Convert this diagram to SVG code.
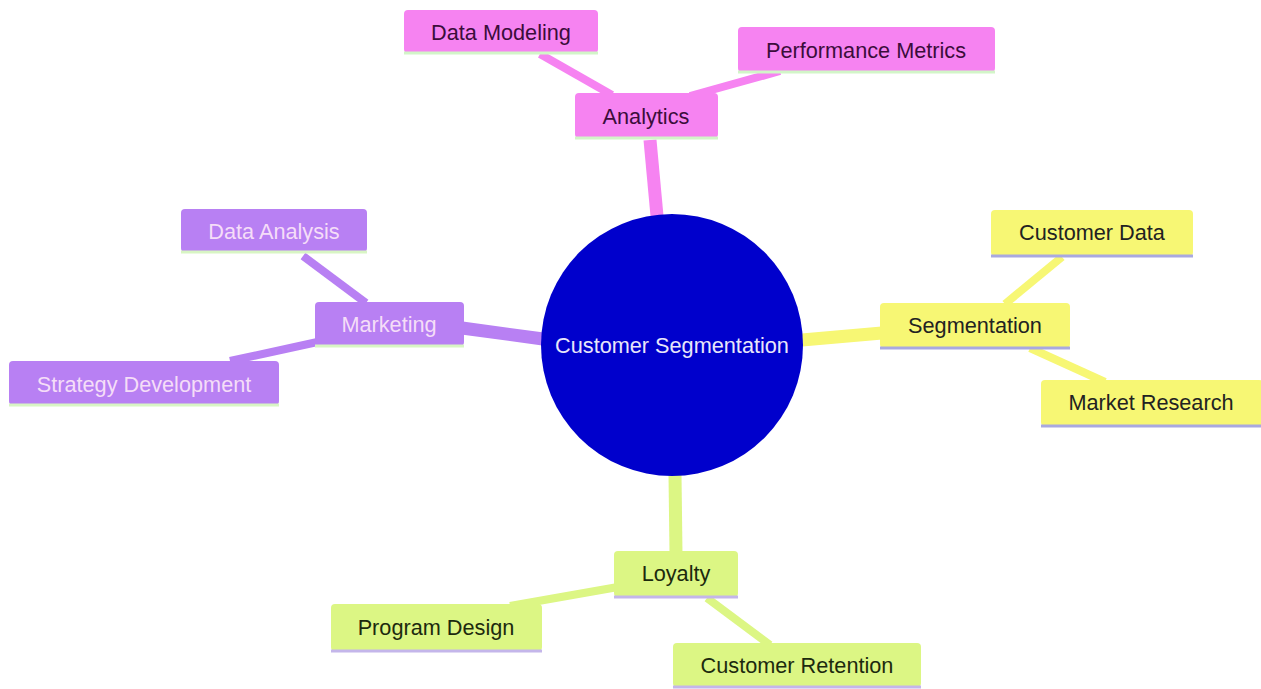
<svg xmlns="http://www.w3.org/2000/svg" width="1261" height="689" viewBox="0 0 1261 689">
<style>
text{font-family:"Liberation Sans",Arial,sans-serif;font-size:21.7px;text-anchor:middle;dominant-baseline:central}
.pk rect.b{fill:#f683f1}.pk text{fill:#3b0d3b}.pk line{stroke:#d2f5c8}
.pu rect.b{fill:#b880f3}.pu text{fill:#f5ddf8}.pu line{stroke:#d8f5c4}
.ye rect.b{fill:#f7f774}.ye text{fill:#222222}.ye line{stroke:#a9a9e0}
.gr rect.b{fill:#dcf684}.gr text{fill:#1c2a0e}.gr line{stroke:#c4b6ea}
.u{stroke-width:3}
.e1{stroke-width:13;stroke-linecap:butt;fill:none}
.e2{stroke-width:8;stroke-linecap:butt;fill:none}
</style>
<rect width="1261" height="689" fill="#ffffff"/>
<g id="connectors">
<line class="e1" x1="650" y1="140" x2="657" y2="216" stroke="#f683f1"/>
<line class="e2" x1="540" y1="54" x2="612" y2="95" stroke="#f683f1"/>
<line class="e2" x1="690" y1="96" x2="780" y2="71" stroke="#f683f1"/>
<line class="e1" x1="462" y1="328" x2="543" y2="339" stroke="#b880f3"/>
<line class="e2" x1="303" y1="256" x2="366" y2="303" stroke="#b880f3"/>
<line class="e2" x1="230" y1="361" x2="322" y2="341" stroke="#b880f3"/>
<line class="e1" x1="802" y1="340" x2="882" y2="333" stroke="#f7f774"/>
<line class="e2" x1="1062" y1="257" x2="1005" y2="304" stroke="#f7f774"/>
<line class="e2" x1="1030" y1="348" x2="1105" y2="382" stroke="#f7f774"/>
<line class="e1" x1="675" y1="475" x2="676" y2="553" stroke="#dcf684"/>
<line class="e2" x1="510" y1="606" x2="618" y2="587" stroke="#dcf684"/>
<line class="e2" x1="707" y1="598" x2="770" y2="645" stroke="#dcf684"/>
</g>
<g id="root">
<circle cx="672" cy="345" r="131" fill="#0000cc"/>
<text x="672" y="345" fill="#e8e6fa">Customer Segmentation</text>
</g>
<g id="analytics" class="pk"><rect class="b" x="575" y="93" width="143" height="45" rx="4"/><line class="u" x1="575" y1="138" x2="718" y2="138"/><text x="646" y="116">Analytics</text></g>
<g id="data-modeling" class="pk"><rect class="b" x="404" y="10" width="194" height="43" rx="4"/><line class="u" x1="404" y1="53" x2="598" y2="53"/><text x="501" y="32">Data Modeling</text></g>
<g id="performance-metrics" class="pk"><rect class="b" x="738" y="27" width="257" height="45" rx="4"/><line class="u" x1="738" y1="72" x2="995" y2="72"/><text x="866" y="50">Performance Metrics</text></g>
<g id="marketing" class="pu"><rect class="b" x="315" y="302" width="149" height="44" rx="4"/><line class="u" x1="315" y1="346" x2="464" y2="346"/><text x="389" y="324">Marketing</text></g>
<g id="data-analysis" class="pu"><rect class="b" x="181" y="209" width="186" height="43" rx="4"/><line class="u" x1="181" y1="252" x2="367" y2="252"/><text x="274" y="231">Data Analysis</text></g>
<g id="strategy-development" class="pu"><rect class="b" x="9" y="361" width="270" height="44" rx="4"/><line class="u" x1="9" y1="405" x2="279" y2="405"/><text x="144" y="384">Strategy Development</text></g>
<g id="segmentation" class="ye"><rect class="b" x="880" y="303" width="190" height="45" rx="4"/><line class="u" x1="880" y1="348" x2="1070" y2="348"/><text x="975" y="325">Segmentation</text></g>
<g id="customer-data" class="ye"><rect class="b" x="991" y="210" width="202" height="46" rx="4"/><line class="u" x1="991" y1="256" x2="1193" y2="256"/><text x="1092" y="232">Customer Data</text></g>
<g id="market-research" class="ye"><rect class="b" x="1041" y="380" width="222" height="46" rx="4"/><line class="u" x1="1041" y1="426" x2="1261" y2="426"/><text x="1151" y="402">Market Research</text></g>
<g id="loyalty" class="gr"><rect class="b" x="614" y="551" width="124" height="46" rx="4"/><line class="u" x1="614" y1="597" x2="738" y2="597"/><text x="676" y="573">Loyalty</text></g>
<g id="program-design" class="gr"><rect class="b" x="331" y="604" width="211" height="47" rx="4"/><line class="u" x1="331" y1="651" x2="542" y2="651"/><text x="436" y="627">Program Design</text></g>
<g id="customer-retention" class="gr"><rect class="b" x="673" y="643" width="248" height="44" rx="4"/><line class="u" x1="673" y1="687" x2="921" y2="687"/><text x="797" y="665">Customer Retention</text></g>
</svg>
